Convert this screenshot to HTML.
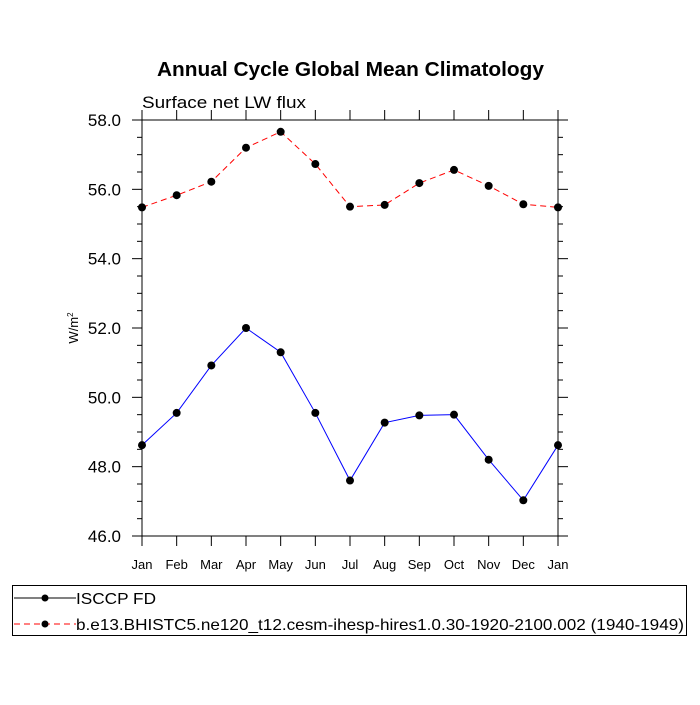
<!DOCTYPE html>
<html><head><meta charset="utf-8"><style>
body{margin:0;background:#fff;font-family:"Liberation Sans",sans-serif}
</style></head><body>
<svg width="700" height="700" xmlns="http://www.w3.org/2000/svg" font-family="Liberation Sans, sans-serif">
<rect width="700" height="700" fill="#fff"/>
<text x="157" y="76" textLength="387" lengthAdjust="spacingAndGlyphs" font-size="20" font-weight="bold">Annual Cycle Global Mean Climatology</text>
<text x="142" y="108" textLength="164" lengthAdjust="spacingAndGlyphs" font-size="17">Surface net LW flux</text>
<text transform="translate(78,328) rotate(-90)" text-anchor="middle" font-size="13">W/m<tspan dy="-5" font-size="8">2</tspan></text>
<g id="axes"></g>
<g id="series"></g>
<g>
<rect x="12.5" y="585.5" width="674" height="50" fill="none" stroke="#000" stroke-width="1"/>
<line x1="14" y1="598" x2="76" y2="598" stroke="#000"/><circle cx="45" cy="598" r="3.5" fill="#000"/>
<text x="76" y="604" textLength="80" lengthAdjust="spacingAndGlyphs" font-size="16">ISCCP FD</text>
<line x1="14" y1="624" x2="76" y2="624" stroke="#f00" stroke-dasharray="6,4"/><circle cx="45" cy="624" r="3.5" fill="#000"/>
<text x="76" y="630" textLength="608" lengthAdjust="spacingAndGlyphs" font-size="16">b.e13.BHISTC5.ne120_t12.cesm-ihesp-hires1.0.30-1920-2100.002 (1940-1949)</text>
</g>
</svg>
<script>
const months=["Jan","Feb","Mar","Apr","May","Jun","Jul","Aug","Sep","Oct","Nov","Dec","Jan"];
const obsValues=[48.62,49.55,50.92,52.0,51.3,49.55,47.6,49.27,49.48,49.5,48.2,47.03,48.62];
const modelValues=[55.48,55.83,56.22,57.2,57.66,56.73,55.5,55.55,56.18,56.56,56.1,55.57,55.48];
const yTicks=[46,48,50,52,54,56,58];
const NS="http://www.w3.org/2000/svg";
const L=142,R=558,T=120,B=536,ymin=46,ymax=58;
const xs=i=>L+(R-L)*i/(months.length-1);
const ys=v=>B-(v-ymin)/(ymax-ymin)*(B-T);
function mk(tag,attrs,parent){const e=document.createElementNS(NS,tag);for(const k in attrs)e.setAttribute(k,attrs[k]);parent.appendChild(e);return e;}
const ax=document.getElementById('axes');
const frame=mk('rect',{x:L,y:T,width:R-L,height:B-T,fill:'none',stroke:'#000','stroke-width':1},ax);


for(let v=ymin;v<=ymax+1e-9;v+=0.5){
  const y=ys(v),maj=Math.abs(v%2)<1e-9,len=maj?10:5;
  mk('line',{x1:L-len,y1:y,x2:L,y2:y,stroke:'#000'},ax);
  mk('line',{x1:R,y1:y,x2:R+len,y2:y,stroke:'#000'},ax);
}
yTicks.forEach(v=>{const t=mk('text',{x:121,y:ys(v)+6,'text-anchor':'end','font-size':17},ax);t.textContent=v.toFixed(1);

});
months.forEach((m,i)=>{const x=xs(i);
  mk('line',{x1:x,y1:B,x2:x,y2:B+10,stroke:'#000'},ax);
  mk('line',{x1:x,y1:T-10,x2:x,y2:T,stroke:'#000'},ax);
  const t=mk('text',{x:x,y:B+33,'text-anchor':'middle','font-size':13},ax);t.textContent=m;
  
  
});
const sg=document.getElementById('series');
function series(vals,color,dash,name){
  const p=mk('polyline',{points:vals.map((v,i)=>xs(i)+','+ys(v)).join(' '),fill:'none',stroke:color,'stroke-width':1,'stroke-dasharray':dash},sg);
  
  
  vals.forEach((v,i)=>{const c=mk('circle',{cx:xs(i),cy:ys(v),r:4,fill:'#000'},sg);
    
    });
}
series(obsValues,'#00f','none','isccp');
series(modelValues,'#f00','6,4','model');
</script>
</body></html>
